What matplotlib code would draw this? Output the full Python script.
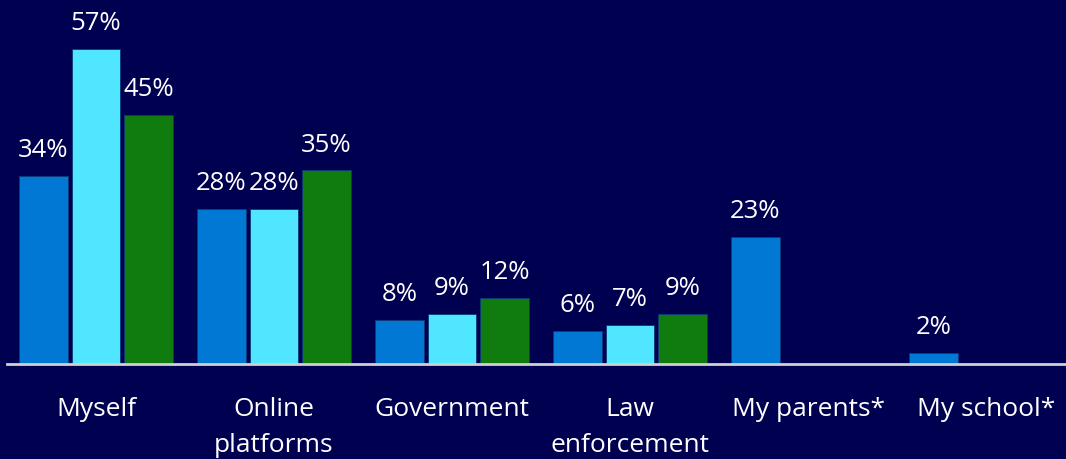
import matplotlib.pyplot as plt
import numpy as np

categories = ["Myself", "Online\nplatforms", "Government", "Law\nenforcement", "My parents*", "My school*"]
series_a = [34, 28, 8, 6, 23, 2]
series_b = [57, 28, 9, 7, None, None]
series_c = [45, 35, 12, 9, None, None]

colors = ["#0078D4", "#50E6FF", "#107C10"]
bg = "#000050"

plt.rcParams['font.family'] = ['Open Sans', 'DejaVu Sans']

fig = plt.figure(figsize=(10.66, 4.60), dpi=100, facecolor=bg)
ax = fig.add_axes([7 / 1066, 1 - 365 / 460, 1 - 7 / 1066, 365 / 460])
ax.set_facecolor(bg)

x = np.arange(len(categories))
width = 0.27
step = 0.295
for i, (vals, col) in enumerate(zip([series_a, series_b, series_c], colors)):
    for xi, v in zip(x, vals):
        if v is None:
            continue
        pos = xi + (i - 1) * step
        ax.bar(pos, v, width=width, color=col, edgecolor="#0a3a7a", linewidth=0.6)
        ax.annotate(f"{v}%", (pos, v), xytext=(0, 10), textcoords="offset points",
                    ha="center", va="bottom", color="white", fontsize=18.5)

ax.set_xlim(-0.5, (1066 - 96) / 178)
ax.set_ylim(0, 365 / 5.53)
for s in ["top", "right", "left"]:
    ax.spines[s].set_visible(False)
ax.spines["bottom"].set_color("#d0d0d0")
ax.spines["bottom"].set_linewidth(2)
ax.set_yticks([])
ax.set_xticks(x)
ax.set_xticklabels(categories, color="white", fontsize=19, linespacing=1.6)
ax.tick_params(axis="x", length=0, pad=23)

fig.savefig("out.png", dpi=100, facecolor=bg)
